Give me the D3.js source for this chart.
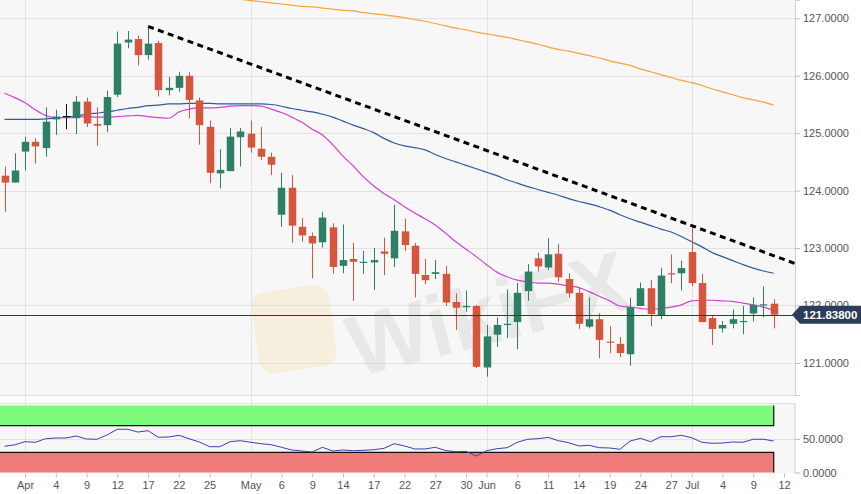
<!DOCTYPE html>
<html><head><meta charset="utf-8">
<script src="https://cdn.jsdelivr.net/npm/d3@7/dist/d3.min.js"></script>
<style>
html,body{margin:0;padding:0;background:#fff;}
svg{display:block;font-family:"Liberation Sans",Arial,Helvetica,sans-serif;}
</style></head><body>
<svg id="chart" width="861" height="494"></svg>
<script>
// ---- data ----
const dates = [
"2019-03-28","2019-03-29",
"2019-04-01","2019-04-02","2019-04-03","2019-04-04","2019-04-05",
"2019-04-08","2019-04-09","2019-04-10","2019-04-11","2019-04-12",
"2019-04-15","2019-04-16","2019-04-17","2019-04-18","2019-04-19",
"2019-04-22","2019-04-23","2019-04-24","2019-04-25","2019-04-26",
"2019-04-29","2019-04-30","2019-05-01","2019-05-02","2019-05-03",
"2019-05-06","2019-05-07","2019-05-08","2019-05-09","2019-05-10",
"2019-05-13","2019-05-14","2019-05-15","2019-05-16","2019-05-17",
"2019-05-20","2019-05-21","2019-05-22","2019-05-23","2019-05-24",
"2019-05-27","2019-05-28","2019-05-29","2019-05-30","2019-05-31",
"2019-06-03","2019-06-04","2019-06-05","2019-06-06","2019-06-07",
"2019-06-10","2019-06-11","2019-06-12","2019-06-13","2019-06-14",
"2019-06-17","2019-06-18","2019-06-19","2019-06-20","2019-06-21",
"2019-06-24","2019-06-25","2019-06-26","2019-06-27","2019-06-28",
"2019-07-01","2019-07-02","2019-07-03","2019-07-04","2019-07-05",
"2019-07-08","2019-07-09","2019-07-10","2019-07-11"];
const axisExtraDay = "2019-07-12";

const open = [
124.26,124.14,124.68,124.85,124.74,125.24,125.30,125.26,125.55,125.16,
125.14,125.67,126.58,126.64,126.36,126.57,125.75,125.79,126.00,125.57,
125.11,124.30,124.34,124.93,124.99,124.73,124.59,123.58,124.05,123.37,
123.21,123.10,123.36,122.69,122.81,122.74,122.75,122.94,122.82,123.29,
123.04,122.53,122.55,122.55,122.06,121.97,121.99,120.92,121.49,121.66,
121.71,122.25,122.82,122.66,122.90,122.46,122.22,121.63,121.76,121.37,
121.33,121.15,121.99,122.30,121.83,122.56,122.56,122.93,122.39,121.78,
121.60,121.68,121.71,121.86,122.00,122.03];
const high = [
124.42,124.65,124.94,124.91,125.45,125.41,125.51,125.65,125.62,125.45,
125.74,126.77,126.78,126.70,126.86,126.61,125.98,126.07,126.06,125.62,
125.22,124.72,125.09,125.09,125.22,125.11,124.66,124.31,124.27,123.52,
123.27,123.63,123.43,123.41,123.09,122.95,123.00,123.18,123.75,123.51,
123.09,122.81,122.79,122.69,122.21,122.26,122.01,121.66,121.79,122.28,
122.39,122.72,122.92,123.17,123.07,122.56,122.30,122.14,121.86,121.64,
121.45,122.13,122.40,122.44,122.65,122.89,122.78,123.39,122.55,121.82,
121.73,121.93,121.99,122.14,122.33,122.11];
const low = [
123.63,124.14,124.35,124.47,124.59,124.97,125.07,124.98,125.11,124.78,
125.02,125.63,126.48,126.18,126.28,125.64,125.66,125.72,125.26,124.80,
124.13,124.04,124.34,124.42,124.66,124.53,124.27,123.37,123.09,123.11,
122.47,123.01,122.55,122.56,122.08,122.55,122.27,122.53,122.67,122.95,
122.14,122.37,122.46,121.99,121.57,121.89,120.91,120.76,121.28,121.43,
121.24,122.08,122.59,122.62,122.41,122.13,121.59,121.60,121.08,121.17,
121.10,120.95,121.99,121.64,121.76,122.39,122.26,122.34,121.71,121.31,
121.53,121.60,121.50,121.72,121.79,121.60];
const close = [
124.14,124.35,124.85,124.77,125.20,125.29,125.30,125.55,125.17,125.13,
125.63,126.56,126.63,126.36,126.56,125.75,125.79,126.00,125.58,125.14,
124.31,124.36,124.94,125.03,124.75,124.59,124.45,124.05,123.39,123.22,
123.08,123.53,122.67,122.79,122.76,122.76,122.79,122.90,123.30,123.05,
122.55,122.44,122.58,122.05,121.96,121.99,120.93,121.46,121.66,121.68,
122.22,122.59,122.68,122.89,122.49,122.21,121.68,121.76,121.40,121.36,
121.17,121.97,122.30,121.85,122.52,122.54,122.65,122.39,121.71,121.59,
121.66,121.76,121.73,122.01,122.02,121.838];

const sma20 = [
125.70,125.62,125.53,125.41,125.31,125.27,125.27,125.28,125.29,125.28,
125.28,125.29,125.30,125.31,125.29,125.27,125.26,125.37,125.42,125.44,
125.44,125.45,125.47,125.48,125.48,125.47,125.42,125.36,125.28,125.19,
125.07,124.97,124.80,124.60,124.43,124.24,124.08,123.95,123.84,123.72,
123.61,123.51,123.40,123.26,123.11,122.98,122.85,122.71,122.58,122.50,
122.44,122.41,122.39,122.39,122.37,122.34,122.31,122.24,122.16,122.08,
121.99,121.97,121.95,121.93,121.95,121.97,122.01,122.08,122.09,122.09,
122.08,122.07,122.04,122.01,121.97,121.91];
const sma50 = [
125.24,125.24,125.24,125.24,125.25,125.26,125.28,125.30,125.33,125.35,
125.37,125.40,125.43,125.45,125.48,125.49,125.51,125.51,125.52,125.52,
125.52,125.51,125.51,125.51,125.51,125.51,125.50,125.47,125.43,125.40,
125.37,125.33,125.28,125.21,125.14,125.08,125.01,124.91,124.83,124.78,
124.75,124.71,124.63,124.56,124.50,124.44,124.38,124.32,124.26,124.19,
124.13,124.07,124.02,123.97,123.92,123.86,123.81,123.77,123.72,123.66,
123.58,123.51,123.45,123.39,123.33,123.28,123.20,123.11,123.02,122.92,
122.85,122.78,122.71,122.65,122.60,122.56];
const sma200Start = "2019-04-30";
const sma200 = [
127.33,127.31,127.29,127.27,127.25,127.23,127.21,127.20,127.18,127.16,
127.14,127.13,127.10,127.08,127.06,127.04,127.01,126.98,126.95,126.91,
126.87,126.83,126.80,126.76,126.73,126.70,126.67,126.63,126.59,126.55,
126.50,126.46,126.43,126.39,126.35,126.31,126.26,126.22,126.18,126.12,
126.07,126.02,125.97,125.92,125.88,125.83,125.77,125.72,125.67,125.62,
125.58,125.54,125.49];

const rsi = [
39.1,41.3,46.0,45.1,50.4,51.5,51.5,54.5,50.0,49.6,
56.0,64.5,64.5,60.4,62.4,52.5,53.0,55.5,50.4,45.5,
38.5,38.5,46.0,47.5,45.1,43.0,41.5,37.6,33.6,32.1,
30.6,37.6,32.1,33.6,32.5,33.1,34.0,36.1,43.0,39.6,
35.1,35.1,37.6,32.8,31.0,31.6,24.6,32.5,35.5,37.0,
45.1,49.6,50.4,52.5,47.5,44.5,39.6,40.6,37.0,36.6,
34.6,47.0,51.0,46.0,53.4,53.4,55.5,51.9,45.1,43.6,
44.0,45.5,45.1,49.6,49.6,47.0];

const priceTicks = [121,122,123,124,125,126,127];
const rsiTicks = [0,50];
const rsiBandLevels = [30,70];
const dateTicks = [
["2019-04-01","Apr"],["2019-04-04","4"],["2019-04-09","9"],["2019-04-12","12"],
["2019-04-17","17"],["2019-04-22","22"],["2019-04-25","25"],["2019-05-01","May"],
["2019-05-06","6"],["2019-05-09","9"],["2019-05-14","14"],["2019-05-17","17"],
["2019-05-22","22"],["2019-05-27","27"],["2019-05-30","30"],["2019-06-03","Jun"],
["2019-06-06","6"],["2019-06-11","11"],["2019-06-14","14"],["2019-06-19","19"],
["2019-06-24","24"],["2019-06-27","27"],["2019-07-01","Jul"],["2019-07-04","4"],
["2019-07-09","9"],["2019-07-12","12"]];
const monthStarts = ["2019-04-01","2019-05-01","2019-06-03","2019-07-01"];
const trendAnchors = [["2019-04-17",126.86],["2019-07-01",123.39]];
const lastPrice = 121.838;

// ---- layout ----
const W = 861, PR = 795;
const mainTop = 0, mainBot = 395, subTop = 403, subBot = 473.5;
const colUp = "#2f7f67", colDn = "#d5563f", colDoji = "#111";
const slots = dates.concat([axisExtraDay]);
const idx = d => slots.indexOf(d);

const svg = d3.select("#chart");
const x = d3.scaleLinear().domain([0, slots.length - 1]).range([4.5, 784]);
const y = d3.scaleLinear().domain([120.44, 127.32]).range([mainBot, mainTop]);
const yR = d3.scaleLinear().domain([0, 100]).range([472.5, 405.5]);

const defs = svg.append("defs");
defs.append("clipPath").attr("id","clipMain").append("rect")
  .attr("x",0).attr("y",mainTop).attr("width",PR).attr("height",mainBot-mainTop);
defs.append("clipPath").attr("id","clipSub").append("rect")
  .attr("x",0).attr("y",subTop).attr("width",PR).attr("height",subBot-subTop);

// panel backgrounds
svg.append("rect").attr("x",0).attr("y",mainTop).attr("width",PR).attr("height",mainBot-mainTop).attr("fill","#f7f7f7");
svg.append("rect").attr("x",0).attr("y",subTop).attr("width",PR).attr("height",subBot-subTop).attr("fill","#f7f7f7");
svg.append("line").attr("x1",0).attr("x2",PR).attr("y1",mainBot+0.5).attr("y2",mainBot+0.5).attr("stroke","#e2e2e2");
svg.append("line").attr("x1",0).attr("x2",PR).attr("y1",subTop+0.5).attr("y2",subTop+0.5).attr("stroke","#e2e2e2");

// grid
const grid = svg.append("g").attr("stroke","#e3e3e3").attr("stroke-width",1);
grid.selectAll("line.h").data(priceTicks).join("line")
  .attr("x1",0).attr("x2",PR).attr("y1",d=>Math.round(y(d))+0.5).attr("y2",d=>Math.round(y(d))+0.5);
grid.append("line").attr("x1",0).attr("x2",PR).attr("y1",Math.round(yR(50))+0.5).attr("y2",Math.round(yR(50))+0.5);
grid.selectAll("line.v").data(monthStarts).join("line")
  .attr("x1",d=>Math.round(x(idx(d)))+0.5).attr("x2",d=>Math.round(x(idx(d)))+0.5)
  .attr("y1",mainTop).attr("y2",subBot);

// watermark
const wm = svg.append("g").attr("clip-path","url(#clipMain)");
wm.append("rect").attr("x",255).attr("y",288).attr("width",78).attr("height",82).attr("rx",14)
  .attr("fill","#f3dc9a").attr("opacity",0.28).attr("transform","rotate(-8,294,329)");
wm.append("text").attr("x",345).attr("y",355).attr("font-size",86).attr("font-weight","bold")
  .attr("fill","#8a8a8a").attr("opacity",0.13).attr("transform","rotate(-14,440,320)")
  .text("WikiFX");

// main plot
const gMain = svg.append("g").attr("clip-path","url(#clipMain)");
const line = arr => d3.line().x((v,i)=>x(i)).y(v=>y(v)).curve(d3.curveMonotoneX)(arr);
const o200 = idx(sma200Start);
gMain.append("path").attr("d", d3.line().x((v,i)=>x(i+o200)).y(v=>y(v)).curve(d3.curveMonotoneX)(sma200))
  .attr("fill","none").attr("stroke","#f5a43a").attr("stroke-width",1.2);
gMain.append("path").attr("d", line(sma50)).attr("fill","none").attr("stroke","#2f5b9e").attr("stroke-width",1.2);
gMain.append("path").attr("d", line(sma20)).attr("fill","none").attr("stroke","#d43fd6").attr("stroke-width",1.2);

const candles = dates.map((d,i)=>({i,o:open[i],h:high[i],l:low[i],c:close[i]}));
const col = d => d.c > d.o ? colUp : d.c < d.o ? colDn : colDoji;
const cg = gMain.append("g");
cg.selectAll("line").data(candles).join("line")
  .attr("x1",d=>Math.round(x(d.i))+0.5).attr("x2",d=>Math.round(x(d.i))+0.5)
  .attr("y1",d=>y(d.h)).attr("y2",d=>y(d.l)).attr("stroke",col).attr("stroke-width",1);
const bw = 7.5;
cg.selectAll("rect").data(candles).join("rect")
  .attr("x",d=>Math.round(x(d.i))+0.5-bw/2).attr("width",bw)
  .attr("y",d=>y(Math.max(d.o,d.c)))
  .attr("height",d=>Math.max(1.2, Math.abs(y(d.o)-y(d.c))))
  .attr("fill",col);

// trend line (extended to the right edge)
const [ta, tb] = trendAnchors;
const ia = idx(ta[0]), ib = idx(tb[0]);
const slope = (tb[1]-ta[1])/(ib-ia);
const iEnd = x.invert(PR);
gMain.append("line")
  .attr("x1",x(ia)).attr("y1",y(ta[1]))
  .attr("x2",PR).attr("y2",y(ta[1]+slope*(iEnd-ia)))
  .attr("stroke","#000").attr("stroke-width",3).attr("stroke-dasharray","6,4.5");

// last price line
gMain.append("line").attr("x1",0).attr("x2",PR)
  .attr("y1",Math.round(y(lastPrice))+0.5).attr("y2",Math.round(y(lastPrice))+0.5)
  .attr("stroke","#2a3b55").attr("stroke-width",1.1);

// sub panel
const gSub = svg.append("g").attr("clip-path","url(#clipSub)");
const xLast = x(dates.length-1);
gSub.append("rect").attr("x",0).attr("width",xLast).attr("y",yR(100)).attr("height",yR(rsiBandLevels[1])-yR(100)).attr("fill","#7cfb7c");
gSub.append("rect").attr("x",0).attr("width",xLast).attr("y",yR(rsiBandLevels[0])).attr("height",yR(0)-yR(rsiBandLevels[0])).attr("fill","#f07b7b");
gSub.append("path").attr("d",`M0,${yR(rsiBandLevels[1])}H${xLast}V${yR(100)}`).attr("fill","none").attr("stroke","#111").attr("stroke-width",1.2);
gSub.append("path").attr("d",`M0,${yR(rsiBandLevels[0])}H${xLast}V${yR(0)}`).attr("fill","none").attr("stroke","#111").attr("stroke-width",1.2);
gSub.append("path").attr("d", d3.line().x((v,i)=>x(i)).y(v=>yR(v))(rsi))
  .attr("fill","none").attr("stroke","#3a40ad").attr("stroke-width",1);

// axes
const styleAxis = g => {
  g.selectAll("path.domain").attr("stroke","#cfcfcf");
  g.selectAll(".tick line").attr("stroke","#bdbdbd");
  g.selectAll(".tick text").attr("fill","#555").attr("font-size",11)
    .attr("font-family","'Liberation Sans',Arial,sans-serif");
};
svg.append("g").attr("transform",`translate(${PR},0)`)
  .call(d3.axisRight(y).tickValues(priceTicks).tickFormat(d=>d.toFixed(4)).tickSize(5).tickPadding(3))
  .call(styleAxis);
svg.append("g").attr("transform",`translate(${PR},0)`)
  .call(d3.axisRight(yR).tickValues(rsiTicks).tickFormat(d=>d.toFixed(4)).tickSize(5).tickPadding(3))
  .call(g=>g.select("path.domain").attr("d",`M0,${subTop}V${subBot}`))
  .call(styleAxis);
const tickMap = new Map(dateTicks);
svg.append("g").attr("transform",`translate(0,${subBot})`)
  .call(d3.axisBottom(x).tickValues(dateTicks.map(t=>idx(t[0]))).tickFormat(i=>tickMap.get(slots[i])).tickSize(4).tickPadding(4))
  .call(g=>g.select("path.domain").remove())
  .call(styleAxis);

// last price label
const ly = y(lastPrice);
svg.append("path").attr("d",`M${PR-3},${ly}L${PR+5},${ly-9}H${W}V${ly+9}H${PR+5}Z`).attr("fill","#2b3d5a");
svg.append("text").attr("x",PR+8).attr("y",ly+4).attr("fill","#fff").attr("font-size",11.5)
  .attr("font-weight","bold").text(lastPrice.toFixed(5));
</script>
</body></html>
